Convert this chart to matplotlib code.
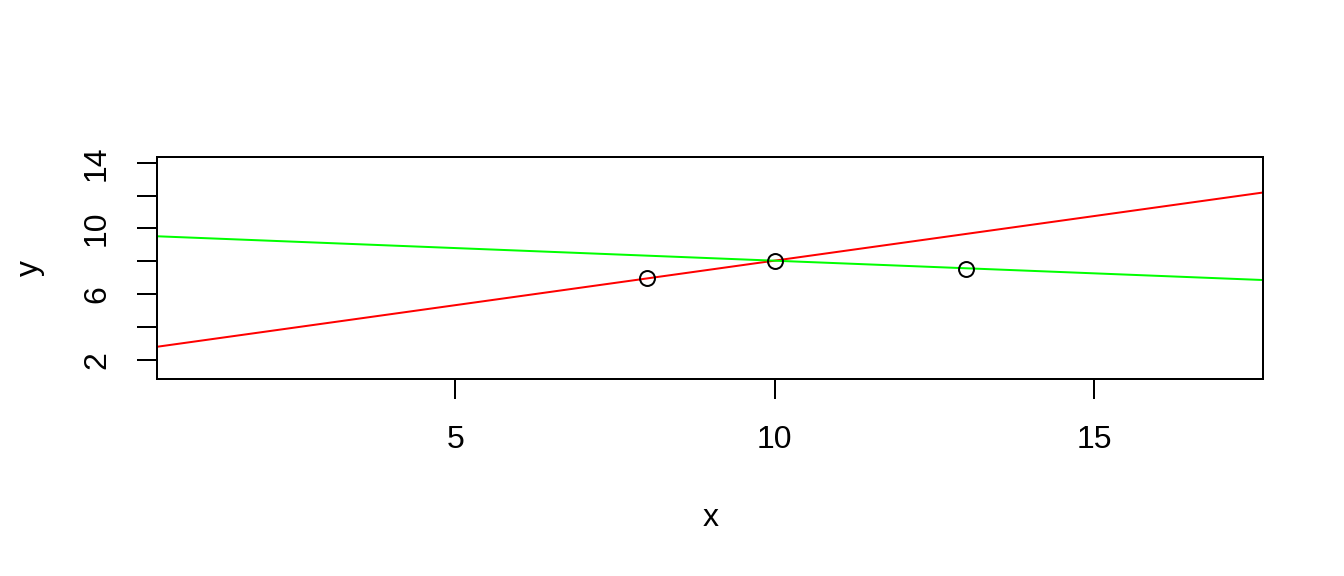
import matplotlib
matplotlib.use("Agg")
import matplotlib.pyplot as plt
import numpy as np

# data
px = [8, 10, 13]
py = [7, 8, 7.55]

# two straight lines: intercept, slope
red_line = (2.605, 0.543)
green_line = (9.57, -0.154)

xlim = (0.34, 17.645)
ylim = (0.806, 14.365)
x_ticks = [5, 10, 15]
y_ticks = [2, 4, 6, 8, 10, 12, 14]
y_tick_labels = ["2", "", "6", "", "10", "", "14"]

plt.rcParams["font.family"] = ["Liberation Sans", "DejaVu Sans"]
plt.rcParams["font.size"] = 12

fig = plt.figure(figsize=(7, 3), dpi=192)
ax = fig.add_axes([157.3 / 1344, 1 - 379.3 / 576, 1106 / 1344, 222.6 / 576])

xs = np.array(xlim)
ax.plot(xs, red_line[0] + red_line[1] * xs, color="#ff0000", lw=0.75)
ax.plot(xs, green_line[0] + green_line[1] * xs, color="#00ff00", lw=0.75)
ax.plot(px, py, linestyle="none", marker="o", markersize=5.6,
        markerfacecolor="none", markeredgecolor="black", markeredgewidth=0.75)

ax.set_xlim(xlim)
ax.set_ylim(ylim)
ax.set_xticks(x_ticks)
ax.set_xticklabels([str(t) for t in x_ticks])
ax.set_yticks(y_ticks)
ax.set_yticklabels(y_tick_labels, rotation=90, va="center")

for s in ax.spines.values():
    s.set_linewidth(0.75)
ax.tick_params(direction="out", length=7.5, width=0.75, pad=9.5, labelsize=12)

ax.set_xlabel("x")
ax.xaxis.set_label_coords(0.5, (379.3 - 518) / 222.6)
ax.xaxis.label.set_va("center")
ax.set_ylabel("y")
ax.yaxis.set_label_coords((30 - 157.3) / 1106, 0.5)
ax.yaxis.label.set_va("center")

fig.savefig("out.png", dpi=192)
